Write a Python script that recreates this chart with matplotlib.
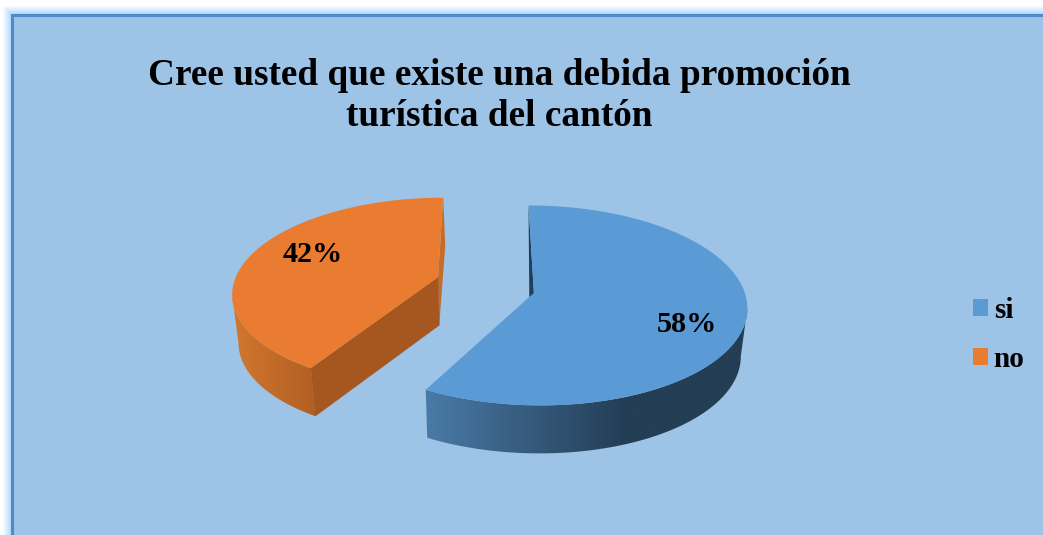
import numpy as np
import matplotlib
matplotlib.use('Agg')
import matplotlib.pyplot as plt
from matplotlib.patches import Rectangle, Polygon, Patch

labels = ['si', 'no']
values = [58, 42]
title = 'Cree usted que existe una debida promoción\nturística del cantón'

blue = '#5b9bd5'
orange = '#ea7c31'
bg = '#9dc3e6'

# fake 3d: camera settings, everything in pixels
W, H = 1043, 535
cx, cy = 485.5, 285.0
R = 212.0
tilt = 97.9
k = 0.1257
depth = 48.0
shrink = 0.975
explode = [(0.226, 0.08), (-0.226, -0.08)]
radius = [0.985, 0.97]
rim_drop = [0.0, 3.5]
start_angle = 0.0
boundary_shift = [0.0, 3.7]


def project(X, Y):
    d = 1 - k * Y
    return cx + R * X / d, cy + tilt * Y / d


def lower(x, y):
    return cx + (x - cx) * shrink, y + depth


def mix(c1, c2, f):
    c1 = np.array(matplotlib.colors.to_rgb(c1))
    c2 = np.array(matplotlib.colors.to_rgb(c2))
    return c1 + (c2 - c1) * np.clip(f, 0, 1)


def side_colour(i, x):
    # gradient on the outer wall goes with screen position
    if i == 0:
        if x < 620:
            return mix('#4a7ba8', '#243f58', (x - 423) / 197)
        return mix('#233e55', '#233e55', 0)
    return mix('#d0762e', '#b25f22', (x - 236) / 80)


fig = plt.figure(figsize=(W / 100, H / 100), dpi=100, facecolor='white')
ax = fig.add_axes([0, 0, 1, 1])
ax.axis('off')

# glow outside of the frame
for n in range(9):
    c = mix('#ffffff', '#aed6fc', (n + 1) / 9)
    ax.add_patch(Rectangle((3 + n, 6 + n), W, H, facecolor=c, edgecolor='none'))
ax.add_patch(Rectangle((12, 15), W, H, facecolor=bg, edgecolor='#4f8bc6', linewidth=2.2))

angles = np.cumsum([0] + values) * 3.6 + start_angle
colours = [blue, orange]
for i in range(len(values)):
    a0 = angles[i] + boundary_shift[i]
    a1 = angles[i + 1]
    t = np.radians(np.linspace(a0, a1, 240))
    ex, ey = explode[i]
    r = radius[i]
    Y = ey - r * np.cos(t)
    xs, ys = project(ex + r * np.sin(t), Y)
    ys = ys + rim_drop[i]
    ax0, ay0 = project(ex, ey)
    bx, by = lower(xs, ys)
    abx, aby = lower(ax0, ay0)

    # cut faces first, then the wall, top face last
    if i == 0:
        ax.add_patch(Polygon([(xs[0], ys[0]), (ax0, ay0), (abx - 3, aby)],
                             facecolor='#1f3f5c', edgecolor='none', zorder=2))
    else:
        ax.add_patch(Polygon([(xs[-1], ys[-1]), (bx[-1] + 1, by[-1]), (abx, aby), (ax0, ay0)],
                             facecolor='#c46c28', edgecolor='none', zorder=2))
        ax.add_patch(Polygon([(xs[0], ys[0]), (ax0, ay0), (abx, aby), (bx[0], by[0])],
                             facecolor='#a5571f', edgecolor='#a5571f', linewidth=0.3, zorder=3))

    # the visible wall runs from the outermost point of the rim to the front corner
    if i == 0:
        front = np.arange(np.argmax(xs), len(xs))
    else:
        front = np.arange(0, np.argmin(xs) + 1)
    wall = list(zip(xs[front], ys[front])) + list(zip(bx[front][::-1], by[front][::-1]))
    wall_patch = Polygon(wall, facecolor='none', edgecolor='none', transform=ax.transData)
    ax.add_patch(wall_patch)
    x_left, x_right = min(bx.min(), xs.min()) - 2, max(bx.max(), xs.max()) + 2
    grad_x = np.linspace(x_left, x_right, 400)
    grad = np.array([[side_colour(i, x) for x in grad_x]])
    im = ax.imshow(grad, extent=(x_left, x_right, H, 0), aspect='auto', zorder=2.5)
    im.set_clip_path(wall_patch)

    pts = [(ax0, ay0)] + list(zip(xs, ys))
    ax.add_patch(Polygon(pts, facecolor=colours[i], edgecolor='none', zorder=4))

ax.set_xlim(0, W)
ax.set_ylim(H, 0)

font = 'Liberation Serif'
ax.text(499, 96, title, ha='center', va='center', family=font, weight='bold',
        fontsize=26.8, linespacing=1.21, color='black', zorder=6)
label_pos = [(687, 325), (313, 254)]
for v, p in zip(values, label_pos):
    ax.text(p[0], p[1], f'{v}%', ha='center', va='center', family=font, weight='bold',
            fontsize=21.8, color='black', zorder=6)

handles = [Patch(facecolor=colours[i], edgecolor='none', label=labels[i]) for i in range(2)]
ax.legend(handles=handles, loc='center left', bbox_to_anchor=(973 / W, 1 - 335 / H),
          frameon=False, handlelength=0.51, handleheight=0.51, handletextpad=0.2,
          labelspacing=0.75, borderpad=0, borderaxespad=0,
          prop={'family': font, 'weight': 'bold', 'size': 21})

fig.savefig('out.png', dpi=100, facecolor='white')
